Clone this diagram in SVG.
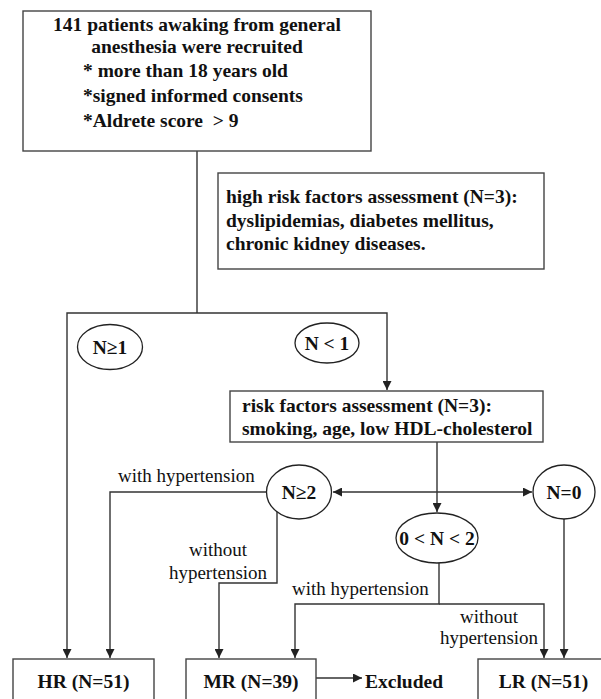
<svg xmlns="http://www.w3.org/2000/svg" width="601" height="699" viewBox="0 0 601 699">
<style>
.box{fill:#fff;stroke:#444;stroke-width:1.4}
.ell{fill:#fff;stroke:#222;stroke-width:1.3}
.ln{fill:none;stroke:#333;stroke-width:1.4}
text{font-family:'Liberation Serif','Times New Roman','DejaVu Serif',serif;fill:#111}
.b{font-weight:bold;font-size:19.5px}
.r{font-size:19px}
.m{text-anchor:middle}
</style>
<defs>
<marker id="arr" viewBox="0 0 10 10" refX="10" refY="5" markerWidth="9" markerHeight="9" markerUnits="userSpaceOnUse" orient="auto-start-reverse">
<path d="M0,0 L10,5 L0,10 z" fill="#222"/>
</marker>
</defs>
<rect width="601" height="699" fill="#fff"/>
<g id="connectors">
<path class="ln" d="M197,151 V313"/>
<path class="ln" d="M197,313 H67 V658" marker-end="url(#arr)"/>
<path class="ln" d="M197,313 H387 V390" marker-end="url(#arr)"/>
<path class="ln" d="M437,442 V512" marker-end="url(#arr)"/>
<path class="ln" d="M333,492 H532" marker-start="url(#arr)" marker-end="url(#arr)"/>
<path class="ln" d="M267,492 H110 V658" marker-end="url(#arr)"/>
<path class="ln" d="M277,512 V583 H219 V658" marker-end="url(#arr)"/>
<path class="ln" d="M439,563 V604 H295 V658" marker-end="url(#arr)"/>
<path class="ln" d="M439,604 H544 V658" marker-end="url(#arr)"/>
<path class="ln" d="M564,519 V658" marker-end="url(#arr)"/>
<path class="ln" d="M316,678 H362" marker-end="url(#arr)"/>
<text class="r" x="118" y="482">with hypertension</text>
<text class="r m" x="218" y="556">without</text>
<text class="r m" x="218" y="579">hypertension</text>
<text class="r" x="292" y="595">with hypertension</text>
<text class="r m" x="489" y="623">without</text>
<text class="r m" x="489" y="644">hypertension</text>
</g>
<g id="recruit">
<rect class="box" x="23" y="11" width="348" height="140"/>
<text class="b m" x="197" y="31">141 patients awaking from general</text>
<text class="b m" x="197" y="53">anesthesia were recruited</text>
<text class="b" x="83" y="77">* more than 18 years old</text>
<text class="b" x="83" y="102">*signed informed consents</text>
<text class="b" x="83" y="127">*Aldrete score&#160; &gt; 9</text>
</g>
<g id="highrisk">
<rect class="box" x="218" y="173" width="326" height="96"/>
<text class="b" x="226" y="203">high risk factors assessment (N=3):</text>
<text class="b" x="226" y="227">dyslipidemias, diabetes mellitus,</text>
<text class="b" x="226" y="250">chronic kidney diseases.</text>
</g>
<g id="n_ge1">
<ellipse class="ell" cx="110" cy="347" rx="32.5" ry="22.5"/>
<text class="b m" x="110" y="354">N≥1</text>
</g>
<g id="n_lt1">
<ellipse class="ell" cx="327" cy="343" rx="32" ry="20"/>
<text class="b m" x="327" y="350">N &lt; 1</text>
</g>
<g id="riskfactors">
<rect class="box" x="230" y="391" width="313" height="51"/>
<text class="b" x="242" y="412">risk factors assessment (N=3):</text>
<text class="b" x="242" y="435">smoking, age, low HDL-cholesterol</text>
</g>
<g id="n_ge2">
<ellipse class="ell" cx="299" cy="492" rx="32.5" ry="27"/>
<text class="b m" x="299" y="499">N≥2</text>
</g>
<g id="n_0">
<ellipse class="ell" cx="564" cy="492" rx="31" ry="27"/>
<text class="b m" x="564" y="499">N=0</text>
</g>
<g id="n_mid">
<ellipse class="ell" cx="437" cy="538" rx="41" ry="25"/>
<text class="b m" x="437" y="545">0 &lt; N &lt; 2</text>
</g>
<g id="hr">
<rect class="box" x="13" y="659" width="141" height="60"/>
<text class="b m" x="83.5" y="688">HR (N=51)</text>
</g>
<g id="mr">
<rect class="box" x="186" y="659" width="130" height="60"/>
<text class="b m" x="251" y="688">MR (N=39)</text>
</g>
<g id="excluded">
<text class="b" x="365" y="688">Excluded</text>
</g>
<g id="lr">
<rect class="box" x="478" y="659" width="131" height="60"/>
<text class="b m" x="543.5" y="688">LR (N=51)</text>
</g>
</svg>
